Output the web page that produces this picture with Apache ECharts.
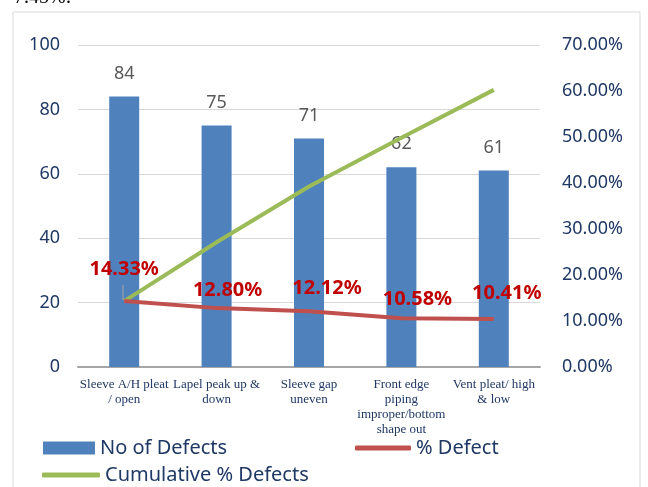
<!DOCTYPE html>
<html>
<head>
<meta charset="utf-8">
<script src="https://cdn.jsdelivr.net/npm/echarts@6/dist/echarts.min.js"></script>
<style>
  html, body { margin: 0; padding: 0; background: #fff; }
  #chart { width: 648px; height: 487px; }
</style>
</head>
<body>
<div id="chart"></div>
<script>
// defect categories (x axis)
const categories = [
  'Sleeve A/H pleat\n/ open',
  'Lapel peak up &\ndown',
  'Sleeve gap\nuneven',
  'Front edge\npiping\nimproper/bottom\nshape out',
  'Vent pleat/ high\n& low'
]
const defectCounts = [84, 75, 71, 62, 61]
const defectPct = [14.33, 12.80, 12.12, 10.58, 10.41]
const cumulativePct = [14.33, 27.13, 39.25, 49.83, 60.24]

// where Excel nudged the red labels (style only, px)
const pctLabelShift = [[0, -11], [11, 3], [18, -2], [16, 1], [13, -5]]

const navy = '#1f3864'
const chart = echarts.init(document.getElementById('chart'))

chart.setOption({
  animation: false,
  textStyle: { fontFamily: 'Noto Sans' },
  grid: { left: 78, right: 108, top: 45, bottom: 120 },
  graphic: [
    { // chart frame
      type: 'rect',
      shape: { x: 13, y: 12, width: 627, height: 490 },
      style: { fill: 'none', stroke: '#d9d9d9', lineWidth: 1 }
    },
    { // clipped text of the page above
      type: 'text', left: 14, top: -12,
      style: { text: '7.45%:', font: '20px "Liberation Serif"', fill: '#000' }
    },
    { // leader line of the first red label
      type: 'line',
      shape: { x1: 123, y1: 285, x2: 123, y2: 300 },
      style: { stroke: '#a6a6a6', lineWidth: 1 },
      z: 10
    }
  ],
  legend: [
    {
      data: ['No of Defects'], left: 38, top: 433,
      itemWidth: 52, itemHeight: 13, icon: 'rect',
      textStyle: { color: navy, fontSize: 20 }
    },
    {
      data: ['% Defect'], left: 350, top: 433,
      itemWidth: 56, itemHeight: 5, icon: 'roundRect', itemGap: 4,
      textStyle: { color: navy, fontSize: 20 }
    },
    {
      data: ['Cumulative % Defects'], left: 37, top: 460,
      itemWidth: 58, itemHeight: 5, icon: 'roundRect',
      textStyle: { color: navy, fontSize: 20 }
    }
  ],
  xAxis: {
    type: 'category',
    data: categories,
    axisLine: { lineStyle: { color: '#a6a6a6', width: 2 } },
    axisTick: { show: false },
    axisLabel: {
      interval: 0, color: navy, fontFamily: 'Liberation Serif',
      fontSize: 13, lineHeight: 15, margin: 10
    }
  },
  yAxis: [
    {
      type: 'value', min: 0, max: 100, interval: 20,
      axisLabel: { color: navy, fontSize: 18, margin: 18 },
      splitLine: { lineStyle: { color: '#d9d9d9' } }
    },
    {
      type: 'value', min: 0, max: 70, interval: 10,
      axisLabel: {
        color: navy, fontSize: 18, margin: 22,
        formatter: v => v.toFixed(2) + '%'
      },
      splitLine: { show: false }
    }
  ],
  series: [
    {
      name: 'No of Defects',
      type: 'bar',
      data: defectCounts,
      barWidth: 30,
      itemStyle: { color: '#4f81bd' },
      label: {
        show: true, position: 'top', distance: 14,
        color: '#595959', fontSize: 18
      }
    },
    {
      name: '% Defect',
      type: 'line',
      yAxisIndex: 1,
      data: defectPct,
      symbol: 'circle',
      symbolSize: 1,
      lineStyle: { color: '#c0504d', width: 4 },
      itemStyle: { color: '#c0504d' },
      label: {
        show: true, position: 'top', distance: 10,
        color: '#c00000', fontSize: 20, fontWeight: 'bold',
        formatter: p => p.value.toFixed(2) + '%'
      },
      labelLayout: p => ({
        dx: pctLabelShift[p.dataIndex][0],
        dy: pctLabelShift[p.dataIndex][1],
        hideOverlap: false
      }),
      z: 3
    },
    {
      name: 'Cumulative % Defects',
      type: 'line',
      yAxisIndex: 1,
      data: cumulativePct,
      symbol: 'none',
      lineStyle: { color: '#9bbb59', width: 4 },
      itemStyle: { color: '#9bbb59' },
      z: 2
    }
  ]
})
</script>
</body>
</html>
